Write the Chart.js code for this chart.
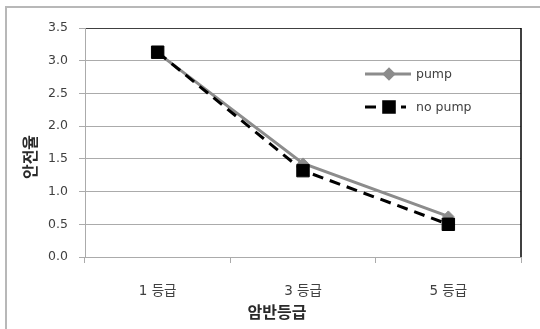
<!DOCTYPE html>
<html>
<head>
<meta charset="utf-8">
<script src="https://cdn.jsdelivr.net/npm/chart.js@4.4.1/dist/chart.umd.min.js"></script>
<style>
  html, body { margin: 0; padding: 0; background: #fff; }
</style>
</head>
<body>
<canvas id="chart" width="540" height="329"></canvas>
<script>
// data
const categories = ['1 등급', '3 등급', '5 등급'];
const pumpValues = [3.12, 1.43, 0.62];
const noPumpValues = [3.13, 1.32, 0.50];
const yTickValues = [0, 0.5, 1.0, 1.5, 2.0, 2.5, 3.0, 3.5];
const seriesNames = ['pump', 'no pump'];
const xTitle = '암반등급';
const yTitle = '안전율';

const GRID = '#ababab';
const TEXT = '#404040';
const LATIN = '"DejaVu Sans", "Noto Sans CJK KR", sans-serif';
const HANGUL = '"Noto Sans CJK KR", sans-serif';

// frame, right border, legend and axis titles
const decor = {
  id: 'decor',
  beforeDraw(chart) {
    const c = chart.ctx;
    c.save();
    c.fillStyle = '#fff';
    c.fillRect(0, 0, chart.width, chart.height);
    c.fillStyle = '#b8b8b8';
    c.fillRect(5, 6, chart.width - 5, 2);
    c.fillRect(5, 6, 2, chart.height - 6);
    c.restore();
  },
  beforeDatasetsDraw(chart) {
    const {ctx: c, chartArea: a} = chart;
    c.save();
    c.strokeStyle = '#000';
    c.lineWidth = 1.5;
    c.beginPath();
    c.moveTo(a.right, a.top);
    c.lineTo(a.right, a.bottom);
    c.stroke();
    c.restore();
  },
  afterDraw(chart) {
    const c = chart.ctx;
    c.save();
    // legend
    const rows = [
      {ds: chart.data.datasets[0], y: 74, x1: 411},
      {ds: chart.data.datasets[1], y: 107, x1: 406}
    ];
    rows.forEach(r => {
      c.strokeStyle = r.ds.borderColor;
      c.lineWidth = r.ds.borderWidth;
      c.setLineDash(r.ds.borderDash || []);
      c.beginPath();
      c.moveTo(365, r.y);
      c.lineTo(r.x1, r.y);
      c.stroke();
      c.setLineDash([]);
      Chart.helpers.drawPoint(c, {
        pointStyle: r.ds.pointStyle,
        radius: r.ds.pointRadius * 0.85,
        borderWidth: 1
      }, 389, r.y);
      c.fillStyle = r.ds.pointBackgroundColor;
      c.fill();
      c.fillStyle = TEXT;
      c.font = '12.5px ' + LATIN;
      c.textAlign = 'left';
      c.textBaseline = 'middle';
      c.fillText(r.ds.label, 416, r.y + 1);
    });
    // axis titles
    c.fillStyle = '#2a2a2a';
    c.font = 'bold 16px ' + HANGUL;
    c.textAlign = 'center';
    c.textBaseline = 'middle';
    c.fillText(xTitle, 277, 312);
    c.translate(30, 157);
    c.rotate(-Math.PI / 2);
    c.fillText(yTitle, 0, 0);
    c.restore();
  }
};

const ctx = document.getElementById('chart');
const chart = new Chart(ctx, {
  type: 'line',
  data: {
    labels: categories,
    datasets: [{
      label: seriesNames[0],
      data: pumpValues,
      borderColor: '#8c8c8c',
      backgroundColor: '#8c8c8c',
      pointBackgroundColor: '#8c8c8c',
      pointBorderColor: '#8c8c8c',
      borderWidth: 3,
      pointStyle: 'rectRot',
      pointRadius: 5.5,
      pointBorderWidth: 1,
      order: 2
    }, {
      label: seriesNames[1],
      data: noPumpValues,
      borderColor: '#000',
      backgroundColor: '#000',
      pointBackgroundColor: '#000',
      pointBorderColor: '#000',
      borderWidth: 3,
      borderDash: [11, 7],
      pointStyle: 'rect',
      pointRadius: 8.8,
      pointBorderWidth: 1,
      order: 1
    }]
  },
  options: {
    responsive: false,
    animation: false,
    layout: {padding: {left: 0, top: 28, right: 19, bottom: 0}},
    plugins: {
      legend: {display: false},
      tooltip: {enabled: false}
    },
    scales: {
      x: {
        type: 'category',
        offset: true,
        grid: {offset: true, drawOnChartArea: false, color: GRID, tickLength: 6},
        border: {color: GRID},
        ticks: {
          color: TEXT,
          font: {family: LATIN, size: 13.5},
          padding: 20,
          maxRotation: 0,
          autoSkip: false
        },
        afterFit: s => { s.height = 72; }
      },
      y: {
        min: 0,
        max: 3.5,
        grid: {
          color: g => (g.tick && g.tick.value === 3.5) ? '#404040' : GRID,
          tickColor: GRID,
          tickLength: 6
        },
        border: {color: GRID},
        ticks: {
          color: TEXT,
          font: {family: LATIN, size: 12.5},
          padding: 11,
          callback: v => v.toFixed(1)
        },
        afterBuildTicks: s => { s.ticks = yTickValues.map(v => ({value: v})); },
        afterFit: s => { s.width = 85; }
      }
    }
  },
  plugins: [decor]
});
</script>
</body>
</html>
